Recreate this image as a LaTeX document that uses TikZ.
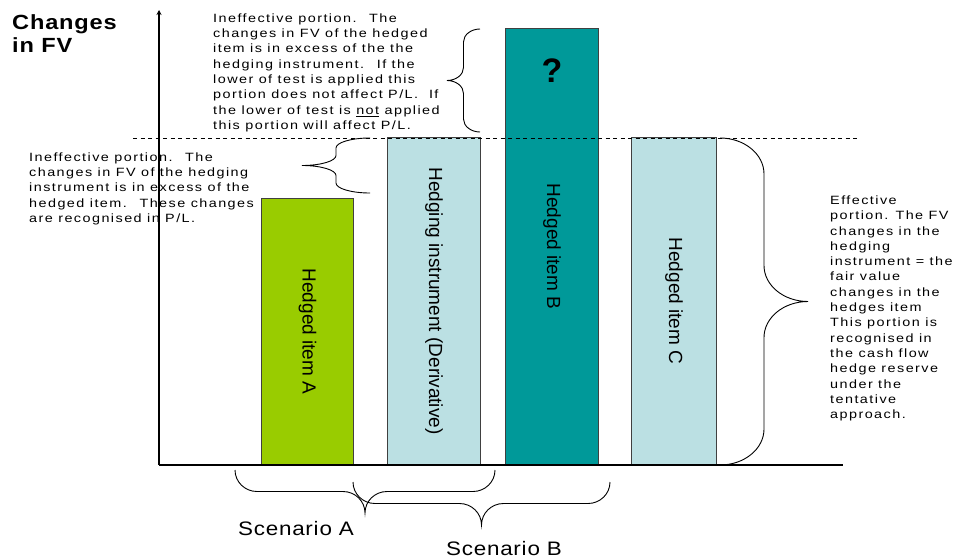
\documentclass[tikz,border=0pt]{standalone}
\usepackage{fontspec}
\setmainfont{Liberation Sans}
\newfontfamily\pptfont[FakeStretch=1.2,LetterSpace=12]{Liberation Sans}
\newfontfamily\pptwide[FakeStretch=1.15,LetterSpace=4]{Liberation Sans}
\usetikzlibrary{positioning,arrows.meta,decorations}

\definecolor{hedgegreen}{HTML}{99CC00}
\definecolor{hedgeteal}{HTML}{009999}
\definecolor{instrblue}{HTML}{BBE0E3}

% curly brace with flat arms, amplitude = tip offset, segment length = corner size
\pgfdeclaredecoration{ppt brace}{brace}{%
  \state{brace}[width=+\pgfdecoratedremainingdistance,next state=final]{%
    \pgfmathsetlengthmacro\brA{\pgfdecorationsegmentamplitude}%
    \pgfmathsetlengthmacro\brC{\pgfdecorationsegmentlength}%
    \pgfmathsetlengthmacro\brD{\pgfdecoratedremainingdistance}%
    \pgfpathmoveto{\pgfpointorigin}%
    \pgfpathcurveto{\pgfpoint{0pt}{.276*\brA}}{\pgfpoint{.448*\brC}{.5*\brA}}{\pgfpoint{\brC}{.5*\brA}}%
    \pgfpathlineto{\pgfpoint{.5*\brD-\brC}{.5*\brA}}%
    \pgfpathcurveto{\pgfpoint{.5*\brD-.448*\brC}{.5*\brA}}{\pgfpoint{.5*\brD}{.724*\brA}}{\pgfpoint{.5*\brD}{\brA}}%
    \pgfpathcurveto{\pgfpoint{.5*\brD}{.724*\brA}}{\pgfpoint{.5*\brD+.448*\brC}{.5*\brA}}{\pgfpoint{.5*\brD+\brC}{.5*\brA}}%
    \pgfpathlineto{\pgfpoint{\brD-\brC}{.5*\brA}}%
    \pgfpathcurveto{\pgfpoint{\brD-.448*\brC}{.5*\brA}}{\pgfpoint{\brD}{.276*\brA}}{\pgfpoint{\brD}{0pt}}%
  }%
  \state{final}{}%
}

\begin{document}
\begin{tikzpicture}[x=1pt, y=-1pt,
    fv bar/.style={draw=black!75, line width=1pt, anchor=south west, inner sep=0pt, minimum width=93pt},
    bar text/.style={rotate=-90, inner sep=0pt, font=\fontsize{19}{21}\selectfont},
    note text/.style={align=left, anchor=north west, inner sep=0pt, font=\pptfont\fontsize{12}{15.3}\selectfont},
    fv brace/.style 2 args={decorate, decoration={ppt brace, amplitude=#1, segment length=#2}, line width=0.9pt},
    node distance=3cm]
    \useasboundingbox (0,0) rectangle (957,559);

    \node[fv bar, fill=hedgegreen, minimum width=92pt, minimum height=266pt] (barA) at (261,465) {};
    \node[fv bar, fill=instrblue, minimum height=327pt] (barH) at (387,465) {};
    \node[fv bar, fill=hedgeteal, minimum height=436pt] (barB) at (505,465) {};
    \node[fv bar, fill=instrblue, minimum width=85pt, minimum height=327pt] (barC) at (631,465) {};

    \node[bar text] (labA) at (barA.center) {Hedged item A};
    \node[bar text] (labH) at (barH.center) {Hedging instrument (Derivative)};
    \node[bar text] (labB) at (barB.center) {Hedged item B};
    \node[bar text] (labC) at (barC.center) {Hedged item C};
    \node[inner sep=0pt, font=\fontsize{34}{34}\selectfont\bfseries, below=31pt of barB.north] (qB) {?};

    \coordinate (origin) at (159,465);
    \coordinate (ytop) at (159,10);
    \coordinate (xend) at (843,465);
    \draw[line width=1.3pt, -{Stealth[length=5pt,width=5pt]}] (origin) -- (ytop);
    \draw[line width=1.3pt] (origin) -- (xend);

    \coordinate (dashL) at (133,138);
    \coordinate (dashR) at (858,138);
    \draw[dashed, dash pattern=on 4pt off 3.5pt, line width=0.8pt] (dashL) -- (dashR);

    \node[anchor=north west, inner sep=0pt, align=left, font=\pptwide\fontsize{20.5}{23}\selectfont\bfseries] (title) at (12,14.5) {Changes\\in FV};

    \node[note text] (noteB) at (213,13.5) {Ineffective portion.~ The\\changes in FV of the hedged\\item is in excess of the the\\hedging instrument.~ If the\\lower of test is applied this\\portion does not affect P/L.~ If\\the lower of test is \underline{not} applied\\this portion will affect P/L.};
    \node[note text] (noteH) at (29,152.5) {Ineffective portion.~ The\\changes in FV of the hedging\\instrument is in excess of the\\hedged item.~ These changes\\are recognised in P/L.};
    \node[note text] (noteC) at (830,195.5) {Effective\\portion. The FV\\changes in the\\hedging\\instrument = the\\fair value\\changes in the\\hedges item\\This portion is\\recognised in\\the cash flow\\hedge reserve\\under the\\tentative\\approach.};

    \coordinate (brB1) at (480,132);
    \coordinate (brB2) at (480,29);
    \coordinate (brH1) at (370,193);
    \coordinate (brH2) at (370,138);
    \coordinate (brC1) at (720,138);
    \coordinate (brC2) at (720,465);
    \coordinate (scA1) at (495,470);
    \coordinate (scA2) at (235,470);
    \coordinate (scB1) at (610,482);
    \coordinate (scB2) at (353,482);
    \draw[fv brace={33}{13}] (brB1) -- (brB2);
    \draw[fv brace={68}{10}] (brH1) -- (brH2);
    \draw[fv brace={88}{36}] (brC1) -- (brC2);
    \draw[fv brace={43}{22}] (scA1) -- (scA2);
    \draw[fv brace={43}{22}] (scB1) -- (scB2);

    \node[inner sep=0pt, font=\pptwide\fontsize{19.5}{22}\selectfont] (scnA) at (296,529) {Scenario A};
    \node[inner sep=0pt, font=\pptwide\fontsize{19.5}{22}\selectfont] (scnB) at (504,548.5) {Scenario B};
\end{tikzpicture}
\end{document}
